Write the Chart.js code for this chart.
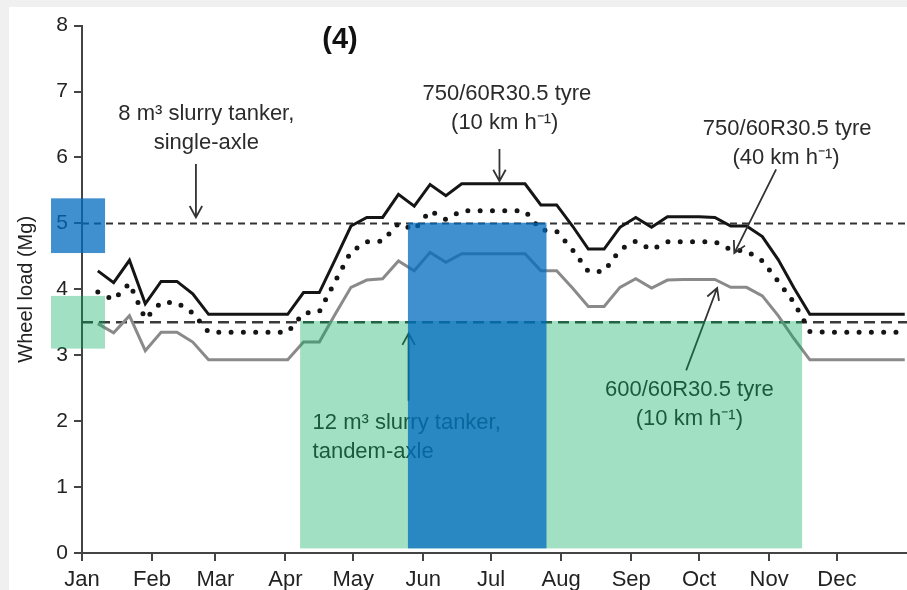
<!DOCTYPE html>
<html>
<head>
<meta charset="utf-8">
<script src="https://cdn.jsdelivr.net/npm/chart.js@4.4.1/dist/chart.umd.min.js"></script>
<style>
  body { margin: 0; background: #f0f0f0; }
  #wrap { position: absolute; left: 9px; top: 7px; width: 898px; height: 583px; background: #fff; }
</style>
</head>
<body>
<div id="wrap"><canvas id="lineChart"></canvas></div>
<script>
// weekly samples, day of year
const weekDays = [7, 14, 21, 28, 35, 42, 49, 56, 63, 70, 77, 84, 91, 98, 105, 112, 119, 126, 133, 140,
  147, 154, 161, 168, 175, 182, 189, 196, 203, 210, 217, 224, 231, 238, 245, 252, 259, 266, 273, 280,
  287, 294, 301, 308, 315, 322, 329, 336, 343, 350, 357, 364];

const monthNames = ['Jan', 'Feb', 'Mar', 'Apr', 'May', 'Jun', 'Jul', 'Aug', 'Sep', 'Oct', 'Nov', 'Dec'];
const monthStarts = [0, 31, 59, 90, 120, 151, 181, 212, 243, 273, 304, 334];

// 750/60R30.5 tyre, 10 km/h (black solid)
const tyre750at10 = [4.28, 4.10, 4.44, 3.78, 4.12, 4.12, 3.93, 3.62, 3.62, 3.62, 3.62, 3.62, 3.62,
  3.95, 3.95, 4.45, 4.96, 5.09, 5.09, 5.44, 5.26, 5.59, 5.42, 5.60, 5.60, 5.60, 5.60, 5.60,
  5.28, 5.28, 4.96, 4.61, 4.61, 4.94, 5.09, 4.94, 5.10, 5.10, 5.10, 5.09, 4.96, 4.96, 4.80,
  4.45, 4.02, 3.62, 3.62, 3.62, 3.62, 3.62, 3.62, 3.62];

// 750/60R30.5 tyre, 40 km/h (black dotted)
const tyre750at40 = [3.96, 3.84, 4.09, 3.55, 3.80, 3.80, 3.64, 3.35, 3.35, 3.35, 3.35, 3.35, 3.35,
  3.64, 3.66, 4.12, 4.57, 4.72, 4.73, 5.00, 4.90, 5.19, 5.06, 5.19, 5.19, 5.19, 5.19, 5.19,
  4.90, 4.88, 4.60, 4.27, 4.27, 4.60, 4.73, 4.60, 4.72, 4.72, 4.72, 4.72, 4.60, 4.58, 4.43,
  4.12, 3.80, 3.36, 3.35, 3.35, 3.35, 3.35, 3.35, 3.35];

// 600/60R30.5 tyre, 10 km/h (grey solid)
const tyre600at10 = [3.48, 3.34, 3.60, 3.07, 3.35, 3.35, 3.20, 2.93, 2.93, 2.93, 2.93, 2.93, 2.93,
  3.20, 3.20, 3.62, 4.03, 4.14, 4.16, 4.43, 4.28, 4.56, 4.41, 4.54, 4.54, 4.54, 4.54, 4.54,
  4.28, 4.28, 4.02, 3.74, 3.74, 4.03, 4.16, 4.02, 4.14, 4.15, 4.15, 4.15, 4.03, 4.03, 3.90,
  3.60, 3.25, 2.93, 2.93, 2.93, 2.93, 2.93, 2.93, 2.93];

// slurry tanker wheel loads: 8 m3 single-axle, 12 m3 tandem-axle
const tankerLoads = [5.0, 3.5];
const yearSpan = [0, 365];

function toPoints(vals) {
  return vals.map(function (v, i) { return { x: weekDays[i], y: v }; });
}
function flatLine(v) {
  return yearSpan.map(function (d) { return { x: d, y: v }; });
}

// labels and arrows, placed in data units (day, Mg)
const notes = [
  { text: '8 m³ slurry tanker,', x: 55, y: 6.66, align: 'center' },
  { text: 'single-axle', x: 55, y: 6.22, align: 'center' },
  { text: '750/60R30.5 tyre', x: 188, y: 6.96, align: 'center' },
  { text: '(10 km h⁻¹)', x: 187, y: 6.52, align: 'center' },
  { text: '750/60R30.5 tyre', x: 312, y: 6.44, align: 'center' },
  { text: '(40 km h⁻¹)', x: 311.5, y: 5.99, align: 'center' },
  { text: '600/60R30.5 tyre', x: 268.7, y: 2.47, align: 'center' },
  { text: '(10 km h⁻¹)', x: 268.7, y: 2.04, align: 'center' },
  { text: '12 m³ slurry tanker,', x: 102, y: 1.98, align: 'left' },
  { text: 'tandem-axle', x: 102, y: 1.54, align: 'left' }
];
const arrows = [
  [50.4, 5.90, 50.4, 5.09],
  [184.7, 6.13, 184.7, 5.64],
  [307.1, 5.82, 288.6, 4.55],
  [267.3, 2.77, 281.0, 4.02],
  [144.5, 2.31, 144.5, 3.33]
];
// highlight boxes [day0, day1, load0, load1]
const boxes = [
  { r: [-13.7, 10.2, 3.10, 3.90], color: 'rgba(0,170,90,0.37)' },
  { r: [96.5, 318.6, 0.07, 3.52], color: 'rgba(0,170,90,0.37)' },
  { r: [-13.7, 10.2, 4.55, 5.38], color: 'rgba(0,107,192,0.75)' },
  { r: [144.2, 205.5, 0.07, 5.01], color: 'rgba(0,107,192,0.75)' }
];

const overlay = {
  id: 'overlay',
  afterDraw: function (chart) {
    const ctx = chart.ctx;
    const px = function (v) { return chart.scales.x.getPixelForValue(v); };
    const py = function (v) { return chart.scales.y.getPixelForValue(v); };
    ctx.save();

    ctx.fillStyle = '#111';
    ctx.font = 'bold 29px "Liberation Sans", Arial, sans-serif';
    ctx.textAlign = 'center';
    ctx.textBaseline = 'middle';
    ctx.fillText('(4)', 331, 33);

    ctx.fillStyle = '#2b2b2b';
    ctx.font = '22px "Liberation Sans", Arial, sans-serif';
    notes.forEach(function (n) {
      ctx.textAlign = n.align;
      ctx.fillText(n.text, px(n.x), py(n.y));
    });

    ctx.strokeStyle = '#333';
    ctx.lineWidth = 1.8;
    arrows.forEach(function (a) {
      const x1 = px(a[0]), y1 = py(a[1]), x2 = px(a[2]), y2 = py(a[3]);
      const ang = Math.atan2(y2 - y1, x2 - x1);
      ctx.beginPath();
      ctx.moveTo(x1, y1);
      ctx.lineTo(x2, y2);
      ctx.moveTo(x2 - 13 * Math.cos(ang - 0.5), y2 - 13 * Math.sin(ang - 0.5));
      ctx.lineTo(x2, y2);
      ctx.lineTo(x2 - 13 * Math.cos(ang + 0.5), y2 - 13 * Math.sin(ang + 0.5));
      ctx.stroke();
    });

    boxes.forEach(function (b) {
      const x0 = px(b.r[0]), x1 = px(b.r[1]), y0 = py(b.r[2]), y1 = py(b.r[3]);
      ctx.fillStyle = b.color;
      ctx.fillRect(x0, y1, x1 - x0, y0 - y1);
    });
    ctx.restore();
  }
};

const tickFont = { family: '"Liberation Sans", Arial, sans-serif', size: 21 };

new Chart(document.getElementById('lineChart'), {
  type: 'line',
  data: {
    datasets: [
      {
        label: '750/60R30.5 tyre (10 km/h)',
        data: toPoints(tyre750at10),
        borderColor: '#151515',
        borderWidth: 3,
        pointRadius: 0,
        tension: 0
      },
      {
        label: '750/60R30.5 tyre (40 km/h)',
        data: toPoints(tyre750at40),
        borderColor: '#151515',
        borderWidth: 5,
        borderDash: [0, 12.3],
        borderCapStyle: 'round',
        pointRadius: 0,
        tension: 0
      },
      {
        label: '600/60R30.5 tyre (10 km/h)',
        data: toPoints(tyre600at10),
        borderColor: '#8a8a8a',
        borderWidth: 3,
        pointRadius: 0,
        tension: 0
      },
      {
        label: '8 m3 slurry tanker, single-axle',
        data: flatLine(tankerLoads[0]),
        borderColor: '#333',
        borderWidth: 2,
        borderDash: [7, 5],
        pointRadius: 0
      },
      {
        label: '12 m3 slurry tanker, tandem-axle',
        data: flatLine(tankerLoads[1]),
        borderColor: '#3a3a3a',
        borderWidth: 2.6,
        borderDash: [11, 6],
        pointRadius: 0
      }
    ]
  },
  options: {
    responsive: true,
    maintainAspectRatio: false,
    animation: false,
    devicePixelRatio: 1,
    layout: { padding: { top: 17, right: 0, left: 0, bottom: 0 } },
    plugins: { legend: { display: false }, tooltip: { enabled: false } },
    scales: {
      x: {
        type: 'linear',
        min: 0,
        max: 365,
        afterBuildTicks: function (s) { s.ticks = monthStarts.map(function (d) { return { value: d }; }); },
        afterFit: function (s) { s.height = 37; },
        ticks: {
          autoSkip: false,
          maxRotation: 0,
          padding: 6,
          color: '#222',
          font: { family: '"Liberation Sans", Arial, sans-serif', size: 22 },
          callback: function (v, i) { return monthNames[i]; }
        },
        grid: { drawOnChartArea: false, tickLength: 8, color: '#444', lineWidth: 2 },
        border: { color: '#444', width: 2 }
      },
      y: {
        min: 0,
        max: 8,
        afterFit: function (s) { s.width = 73; },
        ticks: { stepSize: 1, padding: 6, color: '#222', font: tickFont },
        grid: { drawOnChartArea: false, tickLength: 8, color: '#444', lineWidth: 2 },
        border: { color: '#444', width: 2 },
        title: {
          display: true,
          text: 'Wheel load (Mg)',
          color: '#222',
          font: { family: '"Liberation Sans", Arial, sans-serif', size: 20 },
          padding: { top: 5, bottom: 0 }
        }
      }
    }
  },
  plugins: [overlay]
});
</script>
</body>
</html>
